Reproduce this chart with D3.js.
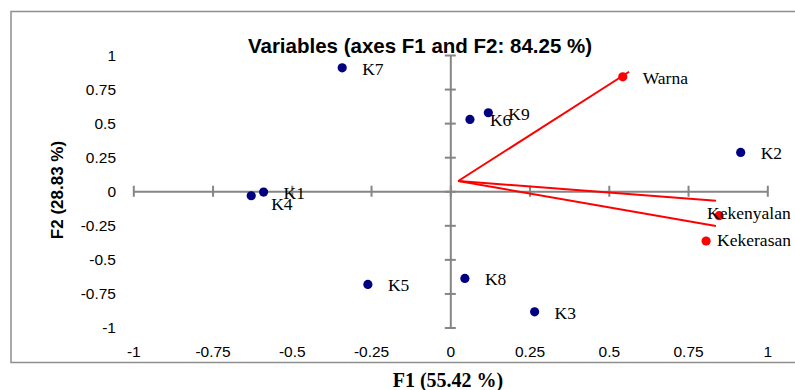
<!DOCTYPE html>
<html>
<head>
<meta charset="utf-8">
<script src="https://cdn.jsdelivr.net/npm/d3@7"></script>
<style>
  body { margin: 0; background: #fff; }
  svg { display: block; }
</style>
</head>
<body>
<svg id="chart"></svg>
<script>
// observations (blue points)
var obsNames = ["K1","K2","K3","K4","K5","K6","K7","K8","K9"];
var obsF1 = [-0.589, 0.916, 0.266, -0.628, -0.260, 0.062, -0.341, 0.046, 0.120];
var obsF2 = [-0.006, 0.285, -0.885, -0.033, -0.684, 0.527, 0.906, -0.640, 0.576];

// variables (red points)
var varNames = ["Warna","Kekenyalan","Kekerasan"];
var varF1 = [0.544, 0.848, 0.807];
var varF2 = [0.840, -0.179, -0.365];

// red vectors as drawn (they don't quite land on the points)
var vecStart = [0.025, 0.075];
var vecEndF1 = [0.564, 0.838, 0.838];
var vecEndF2 = [0.877, -0.070, -0.255];

var axisTicks = [-1,-0.75,-0.5,-0.25,0,0.25,0.5,0.75,1];

var title = "Variables (axes F1 and F2: 84.25 %)";
var xTitle = "F1 (55.42 %)";
var yTitle = "F2 (28.83 %)";

// label nudges, px (dx, dy from point centre to text baseline start)
var labelNudge = {
  "K4": [20, 14],
  "Kekenyalan": [-12, 3.5],
  "Kekerasan": [11, 5]
};

var screen = {width:795,height:390};

var svg = d3.select("#chart")
  .attr("width",screen.width)
  .attr("height",screen.height);

var xScale = d3.scaleLinear().domain([-1,1]).range([133.3,767.3]);
var yScale = d3.scaleLinear().domain([-1,1]).range([327.5,55]);

var grey = "#858585";
var sans = "'Liberation Sans', Arial, sans-serif";
var serif = "'Liberation Serif', 'Times New Roman', serif";

// outer frame
svg.append("rect")
  .attr("x",11).attr("y",11.5)
  .attr("width",820).attr("height",351)
  .attr("fill","none")
  .attr("stroke","#8f8f8f")
  .attr("stroke-width",1.5);

// title
svg.append("text")
  .attr("x",420).attr("y",53)
  .attr("text-anchor","middle")
  .attr("font-family",sans)
  .attr("font-weight","bold")
  .attr("font-size",20.5)
  .text(title);

// axis lines through the origin
var xAxis = svg.append("g")
  .attr("transform","translate(0,"+yScale(0)+")")
  .call(d3.axisBottom(xScale).tickValues(axisTicks).tickSizeOuter(0).tickFormat(""));
xAxis.selectAll(".tick line").attr("y1",-5.5).attr("y2",5.5);

var yAxis = svg.append("g")
  .attr("transform","translate("+xScale(0)+",0)")
  .call(d3.axisLeft(yScale).tickValues(axisTicks).tickSizeOuter(0).tickFormat(""));
yAxis.selectAll(".tick line").attr("x1",-5.5).attr("x2",5.5);

[xAxis,yAxis].forEach(function(g){
  g.selectAll("path,line").attr("stroke",grey).attr("stroke-width",2);
});

// tick labels along the bottom and left
var xLabels = svg.append("g")
  .attr("transform","translate(0,343)")
  .call(d3.axisBottom(xScale).tickValues(axisTicks).tickSize(0).tickFormat(function(d){return String(d);}));
var yLabels = svg.append("g")
  .attr("transform","translate(116,0)")
  .call(d3.axisLeft(yScale).tickValues(axisTicks).tickSize(0).tickFormat(function(d){return String(d);}));

[xLabels,yLabels].forEach(function(g){
  g.select(".domain").remove();
  g.selectAll("text")
    .attr("font-family",sans)
    .attr("font-size",15.5)
    .attr("fill","#000");
});
xLabels.selectAll("text").attr("dy","0.71em").attr("y",3);
yLabels.selectAll("text").attr("x",0).attr("dy","0.35em");

// axis titles
svg.append("text")
  .attr("x",448).attr("y",387)
  .attr("text-anchor","middle")
  .attr("font-family",serif)
  .attr("font-weight","bold")
  .attr("font-size",20)
  .text(xTitle);

svg.append("text")
  .attr("transform","translate(63,190) rotate(-90)")
  .attr("text-anchor","middle")
  .attr("font-family",sans)
  .attr("font-weight","bold")
  .attr("font-size",17)
  .text(yTitle);

// red vectors
svg.append("g").selectAll("line")
  .data(varNames)
  .enter()
  .append("line")
  .attr("x1",xScale(vecStart[0]))
  .attr("y1",yScale(vecStart[1]))
  .attr("x2",function(d,i){return xScale(vecEndF1[i]);})
  .attr("y2",function(d,i){return yScale(vecEndF2[i]);})
  .attr("stroke","#ff0000")
  .attr("stroke-width",2);

var obs = obsNames.map(function(n,i){return {name:n,x:obsF1[i],y:obsF2[i],color:"#000080"};});
var vars = varNames.map(function(n,i){return {name:n,x:varF1[i],y:varF2[i],color:"#ff0000"};});
var pts = obs.concat(vars);

svg.append("g").selectAll("circle")
  .data(pts)
  .enter()
  .append("circle")
  .attr("cx",function(d){return xScale(d.x);})
  .attr("cy",function(d){return yScale(d.y);})
  .attr("r",4.6)
  .attr("fill",function(d){return d.color;});

svg.append("g").selectAll("text")
  .data(pts)
  .enter()
  .append("text")
  .attr("x",function(d){
    var n = labelNudge[d.name] || [20,7];
    return xScale(d.x)+n[0];
  })
  .attr("y",function(d){
    var n = labelNudge[d.name] || [20,7];
    return yScale(d.y)+n[1];
  })
  .attr("font-family",serif)
  .attr("font-size",17.5)
  .attr("fill","#000")
  .text(function(d){return d.name;});
</script>
</body>
</html>
